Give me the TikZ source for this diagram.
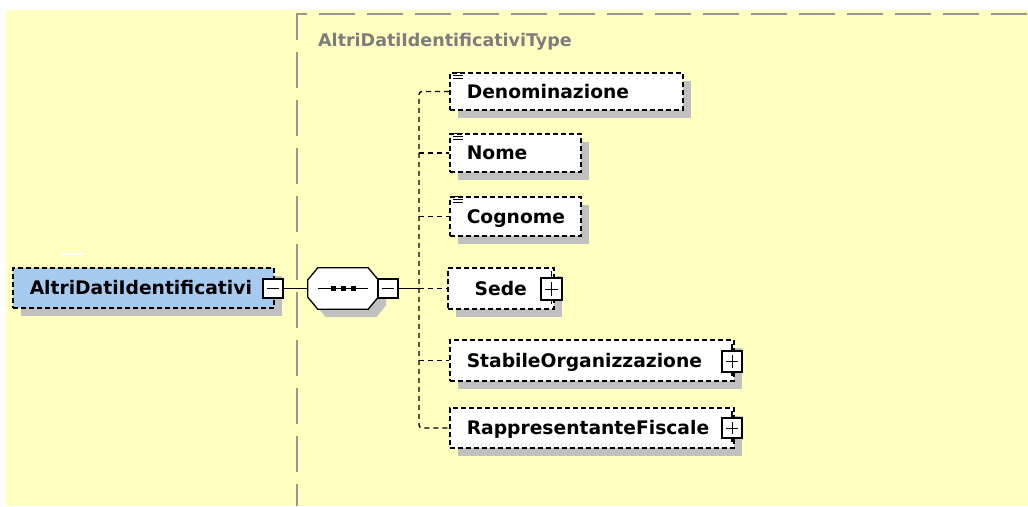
\documentclass[tikz,border=0pt]{standalone}
\usepackage{fontspec}
\setmainfont{DejaVu Sans}
\usetikzlibrary{shadows}

\definecolor{xsdyellow}{RGB}{255,255,192}
\definecolor{xsdblue}{RGB}{166,202,240}
\definecolor{xsdshadow}{RGB}{192,192,192}
\definecolor{xsdgray}{RGB}{150,150,150}
\definecolor{xsdtext}{RGB}{125,125,125}

\newcommand{\elemfont}{\fontsize{18.7}{22}\selectfont\bfseries\lefthyphenmin=62 }

\tikzset{
  xsdshade/.style={general shadow={fill=xsdshadow, shadow xshift=8pt, shadow yshift=-8pt}},
  elem/.style={draw, fill=white, line width=1.5pt, dash pattern=on 5pt off 3pt, xsdshade,
    anchor=west, inner xsep=17pt, inner ysep=0pt, align=left,
    text height=13.5pt, text depth=0pt, font=\elemfont},
  seqnode/.style={minimum width=70pt, minimum height=41pt, inner sep=0pt},
  minusbox/.style={draw, fill=white, line width=1.3pt, minimum width=20pt,
    minimum height=20pt, inner sep=0pt,
    path picture={\draw[line width=1pt] ([xshift=4pt]path picture bounding box.west)
      -- ([xshift=-4pt]path picture bounding box.east);}},
  plusbox/.style={draw, fill=white, line width=1.3pt, minimum width=20pt,
    minimum height=20pt, inner sep=0pt,
    path picture={\draw[line width=1pt] ([xshift=4pt]path picture bounding box.west)
      -- ([xshift=-4pt]path picture bounding box.east);
      \draw[line width=1pt] ([yshift=-4pt]path picture bounding box.north)
      -- ([yshift=4pt]path picture bounding box.south);}},
  conn/.style={line width=1.4pt, dash pattern=on 5pt off 4pt}
}

\begin{document}
\begin{tikzpicture}[x=1pt,y=-1pt]
  \useasboundingbox (0,0) rectangle (1028,506);
  \fill[white] (0,0) rectangle (1028,506);
  \fill[xsdyellow] (6,10) rectangle (1028,506);
  \draw[white, line width=1.5pt] (60,254) -- (85,254);

  % complex type group
  \draw[xsdgray, line width=1.5pt, dash pattern=on 36pt off 12pt] (1027,14) -| (297,506);
  \node[anchor=west, inner sep=0pt, text height=12.8pt, text depth=0pt, text=xsdtext,
    font=\fontsize{17.5}{20}\selectfont\bfseries] (typename) at (318,40.5)
    {AltriDatiIdentificativiType};

  % elements
  \node[elem, fill=xsdblue, text width=227pt, minimum height=40pt] (altri) at (12,288) {AltriDatiIdentificativi};
  \node[elem, text width=199pt, minimum height=37pt] (den) at (449,91.5) {Denominazione};
  \node[elem, text width=97pt, minimum height=38pt] (nome) at (449,153) {Nome};
  \node[elem, text width=97pt, minimum height=39pt] (cogn) at (449,216.5) {Cognome};
  \node[elem, text width=72pt, align=center, minimum height=41pt] (sede) at (447,288.5) {Sede};
  \node[elem, text width=250pt, minimum height=41pt] (stab) at (449,360.5) {StabileOrganizzazione};
  \node[elem, text width=250pt, minimum height=40pt] (rapp) at (449,428) {RappresentanteFiscale};

  % sequence
  \node[seqnode] (seq) at (343,288.5) {};
  \draw[line width=1.3pt, fill=white, xsdshade]
    ([xshift=10pt]seq.north west) -- ([xshift=-10pt]seq.north east)
    -- ([yshift=-12pt]seq.north east) -- ([yshift=12pt]seq.south east)
    -- ([xshift=-10pt]seq.south east) -- ([xshift=10pt]seq.south west)
    -- ([yshift=12pt]seq.south west) -- ([yshift=-12pt]seq.north west) -- cycle;
  \draw[line width=1.3pt] ([xshift=10pt]seq.west) -- ([xshift=-10pt]seq.east);
  \foreach \dx in {-10,0,10}
    \fill ([shift={(\dx-2.5,-2.5)}]seq.center) rectangle ++(5,5);
  \node[minusbox, minimum height=19pt] (seqm) at (388,288.5) {};
  \node[minusbox, minimum height=19pt] (altrim) at (273,288.5) {};
  \coordinate (hub) at (419,288.5);

  % icons
  \foreach \n in {den,nome,cogn}
    \foreach \d in {0,3,6}
      \draw[line width=0.8pt] ([shift={(4,\d)}]\n.north west) -- ++(10,0);

  % connectors
  \draw[line width=1.3pt] (altrim) -- (seq);
  \draw[line width=1.3pt] (seqm) -- (hub);
  \draw[conn, rounded corners=3pt] (den.west) -| (hub) |- (rapp.west);
  \foreach \n in {nome,cogn,sede,stab}
    \draw[conn] (hub |- \n.west) -- (\n.west);

  % expand boxes
  \node[plusbox, minimum width=21pt, minimum height=22pt] (sedep) at (551.5,289) {};
  \node[plusbox, minimum height=21pt] (stabp) at (732,361.5) {};
  \node[plusbox] (rappp) at (732,428) {};
  \foreach \n in {sedep,stabp,rappp} {
    \draw[line width=1.3pt] (\n.north) -- ++(0,-6);
    \draw[line width=1.3pt] (\n.south) -- ++(0,3);
  }
\end{tikzpicture}
\end{document}
